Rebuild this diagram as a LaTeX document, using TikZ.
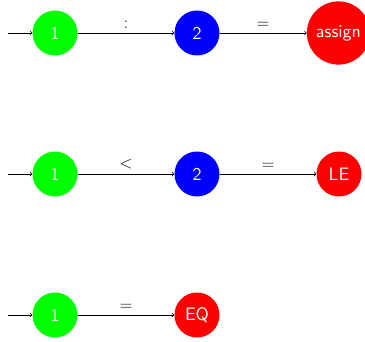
\documentclass[tikz,border=0pt]{standalone}
\usepackage{fontspec}
\setsansfont{lmsans10-regular}[Extension=.otf]
\usetikzlibrary{arrows}
\begin{document}
\begin{tikzpicture}[x=1pt,y=1pt,
  state/.style={circle,minimum size=45pt,inner sep=6pt,text=white,
    font=\fontsize{18}{22}\selectfont\sffamily},
  gstate/.style={state,fill=green},
  bstate/.style={state,fill=blue},
  rstate/.style={state,fill=red},
  edge/.style={->,line width=0.7pt},
  lab/.style={above=1pt,font=\fontsize{17}{20}\selectfont}]
\useasboundingbox (0,0) rectangle (365,341);
% row 1
\coordinate (s1) at (8,308);
\node[gstate] (a1) at (55,308) {1};
\node[bstate] (a2) at (197,308) {2};
\node[rstate] (a3) at (338.5,308) {assign};
\draw[edge] (s1) -- (a1);
\draw[edge] (a1) -- node[lab] {$:$} (a2);
\draw[edge] (a2) -- node[lab] {$=$} (a3);
% row 2
\coordinate (s2) at (8,167);
\node[gstate] (b1) at (55,167) {1};
\node[bstate] (b2) at (197,167) {2};
\node[rstate] (b3) at (339,167) {LE};
\draw[edge] (s2) -- (b1);
\draw[edge] (b1) -- node[lab] {$<$} (b2);
\draw[edge] (b2) -- node[lab] {$=$} (b3);
% row 3
\coordinate (s3) at (8,26);
\node[gstate] (c1) at (55,26) {1};
\node[rstate] (c2) at (197,26) {EQ};
\draw[edge] (s3) -- (c1);
\draw[edge] (c1) -- node[lab] {$=$} (c2);
\end{tikzpicture}
\end{document}
